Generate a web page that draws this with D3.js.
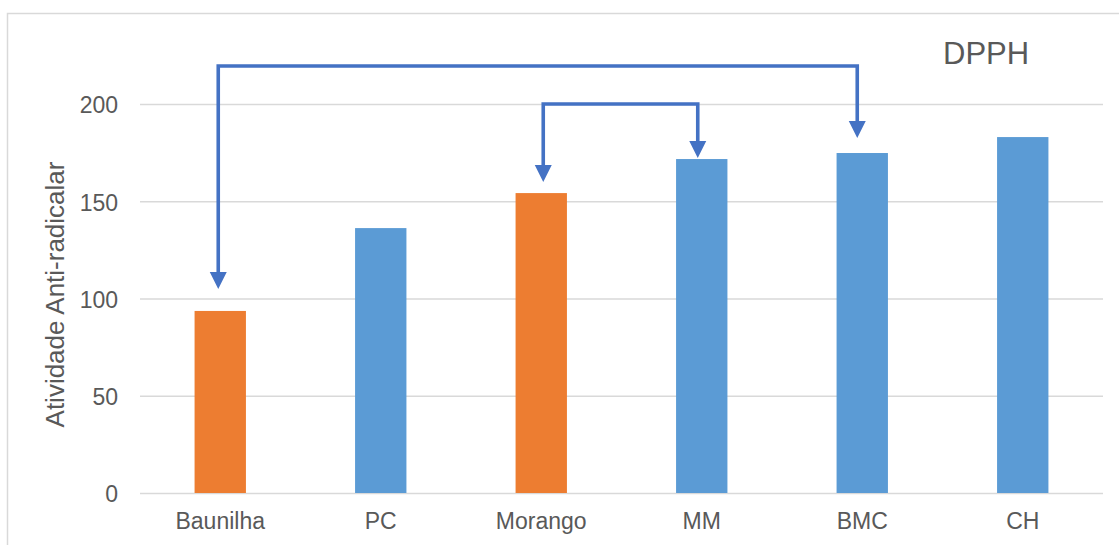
<!DOCTYPE html>
<html>
<head>
<meta charset="utf-8">
<script src="https://cdn.jsdelivr.net/npm/d3@7"></script>
<style>
  html, body { margin: 0; padding: 0; background: #fff; }
  svg { display: block; font-family: "Liberation Sans", Arial, sans-serif; }
</style>
</head>
<body>
<svg id="chart" width="1119" height="545"></svg>
<script>
// Antiradical activity (DPPH) per sample
const categories = ["Baunilha", "PC", "Morango", "MM", "BMC", "CH"];
const values = [93.6, 136.2, 154.2, 171.7, 174.8, 183.0];
const highlighted = ["Baunilha", "Morango"];
const yTicks = [0, 50, 100, 150, 200];

// Comparison brackets: from/to categories, bracket height and arrow tip values
const bracketFrom = ["Baunilha", "Morango"];
const bracketTo = ["BMC", "MM"];
const bracketLevel = [219.5, 200];
const bracketFromTip = [104.9, 159.9];
const bracketToTip = [182.5, 172.2];
const bracketFromNudge = [-2, 2];
const bracketToNudge = [-5, -4];

const svg = d3.select("#chart");
const W = 1119, H = 545;
const plot = { left: 140, right: 1103, top: 104, bottom: 493 };
const blue = "#5B9BD5", orange = "#ED7D31", arrowBlue = "#4472C4";
const textColor = "#595959", gridColor = "#D9D9D9";

// chart frame
svg.append("rect")
  .attr("x", 7.5).attr("y", 13.5)
  .attr("width", W + 20).attr("height", H + 20)
  .attr("fill", "none").attr("stroke", gridColor).attr("stroke-width", 1.5);

const x = d3.scaleBand().domain(categories).range([plot.left, plot.right]).padding(0);
const y = d3.scaleLinear().domain([0, 200]).range([plot.bottom, plot.top]);
const barW = x.step() * 0.32;
const cx = c => x(c) + x.bandwidth() / 2;

// gridlines and y tick labels
const yAxis = d3.axisLeft(y).tickValues(yTicks).tickSize(-(plot.right - plot.left)).tickPadding(22);
const gy = svg.append("g").attr("transform", `translate(${plot.left},0)`).call(yAxis);
gy.select(".domain").remove();
gy.selectAll(".tick line").attr("stroke", gridColor).attr("stroke-width", 1.5);
gy.selectAll(".tick text")
  .attr("fill", textColor).attr("font-size", 23)
  .attr("font-family", "Liberation Sans, Arial, sans-serif")
  .attr("dy", "0.38em");

// bars
svg.append("g").selectAll("rect")
  .data(categories.map((c, i) => ({ c, v: values[i] })))
  .join("rect")
  .attr("x", d => cx(d.c) - barW / 2)
  .attr("y", d => y(d.v))
  .attr("width", barW)
  .attr("height", d => y(0) - y(d.v))
  .attr("fill", d => highlighted.includes(d.c) ? orange : blue);

// category labels
const xAxis = d3.axisBottom(x).tickSize(0).tickPadding(20);
const gx = svg.append("g").attr("transform", `translate(0,${plot.bottom})`).call(xAxis);
gx.select(".domain").remove();
gx.selectAll(".tick text")
  .attr("fill", textColor).attr("font-size", 23)
  .attr("font-family", "Liberation Sans, Arial, sans-serif");

// y axis title
svg.append("text")
  .attr("transform", `translate(64,${(162 + 427) / 2}) rotate(-90)`)
  .attr("text-anchor", "middle")
  .attr("fill", textColor).attr("font-size", 26)
  .text("Atividade Anti-radicalar");

// chart title
svg.append("text")
  .attr("x", 943).attr("y", 64)
  .attr("fill", textColor).attr("font-size", 31)
  .text("DPPH");

// comparison brackets with arrowheads
const head = 17;
function arrowHead(g, px, tipY) {
  g.append("path")
    .attr("d", `M${px - head / 2},${tipY - head} L${px + head / 2},${tipY - head} L${px},${tipY} Z`)
    .attr("fill", arrowBlue);
}
const gb = svg.append("g");
bracketFrom.forEach((f, i) => {
  const x1 = cx(f) + bracketFromNudge[i];
  const x2 = cx(bracketTo[i]) + bracketToNudge[i];
  const top = y(bracketLevel[i]);
  const t1 = y(bracketFromTip[i]);
  const t2 = y(bracketToTip[i]);
  gb.append("path")
    .attr("d", `M${x1},${t1 - head + 2} L${x1},${top} L${x2},${top} L${x2},${t2 - head + 2}`)
    .attr("fill", "none").attr("stroke", arrowBlue).attr("stroke-width", 3.6)
    .attr("stroke-linejoin", "miter");
  arrowHead(gb, x1, t1);
  arrowHead(gb, x2, t2);
});
</script>
</body>
</html>
